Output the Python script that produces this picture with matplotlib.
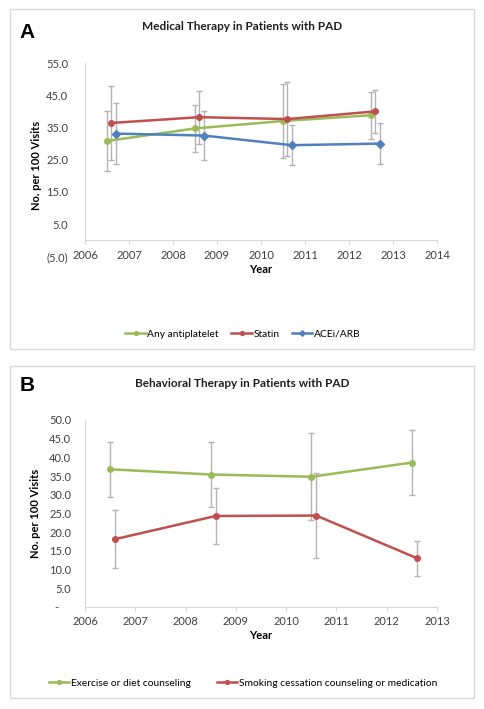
import matplotlib.pyplot as plt
from matplotlib.patches import Rectangle

# Panel A: medical therapy (x positions are survey periods, slightly offset per series)
years_a = [2006, 2007, 2008, 2009, 2010, 2011, 2012, 2013, 2014]
antiplatelet_x = [2006.5, 2008.5, 2010.5, 2012.5]
antiplatelet = [30.8, 34.7, 37.0, 38.8]
antiplatelet_err = [9.4, 7.3, 11.5, 7.3]
statin_x = [2006.6, 2008.6, 2010.6, 2012.6]
statin = [36.4, 38.2, 37.6, 40.0]
statin_err = [11.5, 8.2, 11.4, 6.7]
acei_x = [2006.7, 2008.7, 2010.7, 2012.7]
acei = [33.1, 32.5, 29.5, 30.0]
acei_err = [9.5, 7.7, 6.2, 6.3]
yticks_a = [-5, 5, 15, 25, 35, 45, 55]
ylabels_a = ['(5.0)', '5.0', '15.0', '25.0', '35.0', '45.0', '55.0']

# Panel B: behavioral therapy
years_b = [2006, 2007, 2008, 2009, 2010, 2011, 2012, 2013]
exercise_x = [2006.5, 2008.5, 2010.5, 2012.5]
exercise = [36.8, 35.4, 34.8, 38.6]
exercise_err = [7.4, 8.7, 11.7, 8.6]
smoking_x = [2006.6, 2008.6, 2010.6, 2012.6]
smoking = [18.1, 24.3, 24.4, 13.0]
smoking_err = [7.7, 7.5, 11.4, 4.7]
yticks_b = [0, 5, 10, 15, 20, 25, 30, 35, 40, 45, 50]
ylabels_b = ['-    '] + ['%.1f' % v for v in yticks_b[1:]]

GREEN = '#9bbb59'
RED = '#c0504d'
BLUE = '#4f81bd'
ERR = '#b3b3b3'
AXIS = '#d9d9d9'

W, H = 485, 709
plt.rcParams['font.family'] = ['Lato', 'DejaVu Sans']

fig = plt.figure(figsize=(W / 100, H / 100), dpi=100)


def px(x0, y0, x1, y1):
    # pixel box (top-left origin) -> figure fraction rect
    return [x0 / W, 1 - y1 / H, (x1 - x0) / W, (y1 - y0) / H]


def panel_box(y0, y1):
    r = px(10, y0, 474, y1)
    fig.patches.append(Rectangle((r[0], r[1]), r[2], r[3], transform=fig.transFigure,
                                 fill=False, edgecolor='#d9d9d9', linewidth=1))


def series(ax, x, y, err, color, marker, label, ms):
    ax.errorbar(x, y, yerr=err, fmt='none', ecolor=ERR, elinewidth=1,
                capsize=2, capthick=1, zorder=2)
    ax.plot(x, y, color=color, linewidth=1.8, marker=marker, markersize=ms,
            label=label, zorder=3)


def style_axes(ax, ypad):
    for s in ['top', 'right']:
        ax.spines[s].set_visible(False)
    ax.spines['left'].set_color(AXIS)
    ax.spines['bottom'].set_color(AXIS)
    ax.tick_params(axis='y', length=0, pad=ypad, labelsize=8, colors='#404040')
    ax.tick_params(axis='x', length=3, color=AXIS, pad=4, labelsize=8, colors='#404040')
    ax.set_xlabel('Year', fontsize=8, fontweight='bold')
    ax.set_ylabel('No. per 100 Visits', fontsize=8, fontweight='bold')
    ax.patch.set_alpha(0)


# ---- Panel A ----
panel_box(9, 349)
ax1 = fig.add_axes(px(85, 63, 437, 256.4))
series(ax1, antiplatelet_x, antiplatelet, antiplatelet_err, GREEN, 'o', 'Any antiplatelet', 4)
series(ax1, statin_x, statin, statin_err, RED, 'o', 'Statin', 4)
series(ax1, acei_x, acei, acei_err, BLUE, 'D', 'ACEi/ARB', 4)
ax1.set_xlim(2006, 2014)
ax1.set_ylim(-5, 55)
ax1.set_xticks(years_a)
ax1.set_yticks(yticks_a)
ax1.set_yticklabels(ylabels_a)
ax1.spines['bottom'].set_position(('data', 0))
ax1.spines['left'].set_bounds(0, 55)
style_axes(ax1, 12)
ax1.xaxis.set_label_coords(0.5, -0.070)
ax1.xaxis.label.set_va('center')
ax1.yaxis.set_label_coords(-0.123, 0.47)
fig.text(242 / W, 1 - 26 / H, 'Medical Therapy in Patients with PAD', ha='center', va='center',
         fontsize=8.5, fontweight='bold', color='#202020')
fig.text(27 / W, 1 - 32 / H, 'A', ha='center', va='center', fontsize=15, fontweight='bold',
         family='Liberation Sans')
fig.legend(*ax1.get_legend_handles_labels(), loc='center', bbox_to_anchor=(243 / W, 1 - 334 / H),
           ncol=3, frameon=False, fontsize=7.4, handlelength=2.0, handletextpad=0.15,
           columnspacing=1.2, markerscale=0.7)

# ---- Panel B ----
panel_box(366, 698)
ax2 = fig.add_axes(px(85, 420, 437, 606.7))
series(ax2, exercise_x, exercise, exercise_err, GREEN, 'o', 'Exercise or diet counseling', 4)
series(ax2, smoking_x, smoking, smoking_err, RED, 'o', 'Smoking cessation counseling or medication', 4)
ax2.set_xlim(2006, 2013)
ax2.set_ylim(0, 50)
ax2.set_xticks(years_b)
ax2.set_yticks(yticks_b)
ax2.set_yticklabels(ylabels_b)
style_axes(ax2, 10)
ax2.xaxis.set_label_coords(0.5, -0.155)
ax2.xaxis.label.set_va('center')
ax2.yaxis.set_label_coords(-0.125, 0.5)
fig.text(242 / W, 1 - 383 / H, 'Behavioral Therapy in Patients with PAD', ha='center', va='center',
         fontsize=8.5, fontweight='bold', color='#202020')
fig.text(27 / W, 1 - 385 / H, 'B', ha='center', va='center', fontsize=15, fontweight='bold',
         family='Liberation Sans')
fig.legend(*ax2.get_legend_handles_labels(), loc='center', bbox_to_anchor=(243 / W, 1 - 683 / H),
           ncol=2, frameon=False, fontsize=7.4, handlelength=2.0, handletextpad=0.15,
           columnspacing=2.5, markerscale=0.7)

fig.savefig('out.png', dpi=100)
